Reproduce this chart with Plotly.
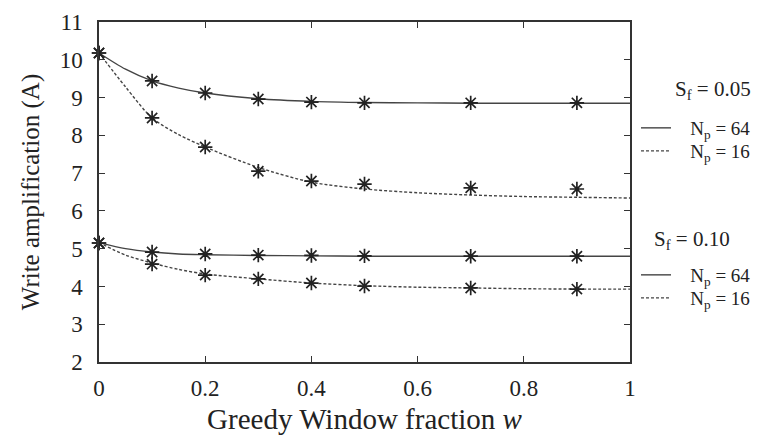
import plotly.graph_objects as go

# measured points
x_pts = [0, 0.1, 0.2, 0.3, 0.4, 0.5, 0.7, 0.9]
sf05_np64 = [10.18, 9.44, 9.12, 8.96, 8.88, 8.86, 8.86, 8.86]
sf05_np16 = [10.18, 8.46, 7.69, 7.05, 6.79, 6.71, 6.61, 6.58]
sf10_np64 = [5.15, 4.91, 4.86, 4.83, 4.82, 4.81, 4.80, 4.80]
sf10_np16 = [5.15, 4.59, 4.30, 4.20, 4.09, 4.01, 3.96, 3.93]

# model curves
x_fit = [0, 0.05, 0.1, 0.15, 0.2, 0.3, 0.4, 0.5, 0.6, 0.7, 0.8, 0.9, 1.0]
fit05_np64 = [10.18, 9.75, 9.44, 9.25, 9.12, 8.97, 8.90, 8.87, 8.86, 8.85, 8.85, 8.85, 8.85]
fit05_np16 = [10.18, 9.28, 8.46, 8.02, 7.69, 7.15, 6.76, 6.58, 6.48, 6.42, 6.38, 6.36, 6.34]
fit10_np64 = [5.16, 5.00, 4.91, 4.86, 4.84, 4.82, 4.81, 4.80, 4.80, 4.80, 4.80, 4.80, 4.80]
fit10_np16 = [5.16, 4.83, 4.62, 4.45, 4.33, 4.20, 4.09, 4.02, 3.98, 3.96, 3.94, 3.93, 3.93]

x_ticks = [0, 0.2, 0.4, 0.6, 0.8, 1]
x_tick_labels = ["0", "0.2", "0.4", "0.6", "0.8", "1"]
y_ticks = [2, 3, 4, 5, 6, 7, 8, 9, 10, 11]

group_titles = ["S<sub>f</sub> = 0.05", "S<sub>f</sub> = 0.10"]
series_names = ["N<sub>p</sub> = 64", "N<sub>p</sub> = 16"]

FONT = "Liberation Serif"
INK = "#222222"
LINE = "#444444"
DASH = "3px,2px"

fig = go.Figure()

curves = [
    (fit05_np64, "solid", series_names[0], "legend"),
    (fit05_np16, DASH, series_names[1], "legend2"),
    (fit10_np64, "solid", series_names[0], "legend3"),
    (fit10_np16, DASH, series_names[1], "legend4"),
]
for ys, dash, name, lg in curves:
    fig.add_trace(go.Scatter(
        x=x_fit, y=ys, mode="lines", name="&nbsp;&nbsp;&nbsp;" + name, legend=lg,
        line=dict(color=LINE, width=1.4, dash=dash, shape="spline", smoothing=0.8),
        cliponaxis=False,
    ))

for ys in [sf05_np64, sf05_np16, sf10_np64, sf10_np16]:
    fig.add_trace(go.Scatter(
        x=x_pts, y=ys, mode="markers", showlegend=False,
        marker=dict(symbol="asterisk-open", size=12, color="#222222",
                    line=dict(color="#222222", width=1.7)),
        cliponaxis=False,
    ))

axis_common = dict(
    showline=True, linecolor="#333333", linewidth=1.5, mirror="ticks",
    ticks="inside", ticklen=6, tickwidth=1.2, tickcolor="#333333",
    showgrid=False, zeroline=False, automargin=False,
    tickfont=dict(family=FONT, size=23, color=INK),
)

fig.update_xaxes(
    range=[0, 1], tickvals=x_ticks, ticktext=x_tick_labels,
    ticklabelstandoff=5,
    title=dict(text="Greedy Window fraction <i>w</i>",
               font=dict(family=FONT, size=29, color=INK), standoff=8),
    **axis_common,
)
fig.update_yaxes(
    range=[2, 11], tickvals=y_ticks,
    ticklabelstandoff=10,
    title=dict(text="Write amplification (A)",
               font=dict(family=FONT, size=25, color=INK), standoff=13),
    **axis_common,
)

PLOT_L, PLOT_R, PLOT_T, PLOT_B = 99, 630, 22, 362


def px_x(p):
    return (p - PLOT_L) / (PLOT_R - PLOT_L)


def px_y(p):
    return (PLOT_B - p) / (PLOT_B - PLOT_T)


legend_common = dict(
    xanchor="left", yanchor="middle",
    bgcolor="rgba(0,0,0,0)", borderwidth=0,
    font=dict(family=FONT, size=19, color=INK),
    itemwidth=30, tracegroupgap=0,
)
fig.update_layout(
    width=761, height=443,
    margin=dict(l=PLOT_L, r=761 - PLOT_R, t=PLOT_T, b=443 - PLOT_B, autoexpand=False),
    plot_bgcolor="white", paper_bgcolor="white",
    font=dict(family=FONT, color=INK),
    legend=dict(x=px_x(636), y=px_y(128), **legend_common),
    legend2=dict(x=px_x(636), y=px_y(151), **legend_common),
    legend3=dict(x=px_x(636), y=px_y(275), **legend_common),
    legend4=dict(x=px_x(636), y=px_y(298), **legend_common),
    annotations=[
        dict(text=group_titles[0], x=px_x(713), y=px_y(90), xref="paper", yref="paper",
             showarrow=False, xanchor="center", yanchor="middle",
             font=dict(family=FONT, size=21, color=INK)),
        dict(text=group_titles[1], x=px_x(692), y=px_y(240), xref="paper", yref="paper",
             showarrow=False, xanchor="center", yanchor="middle",
             font=dict(family=FONT, size=21, color=INK)),
    ],
)

fig.write_html("out.html", config={"displayModeBar": False},
               post_script="document.body.style.margin='0';")
